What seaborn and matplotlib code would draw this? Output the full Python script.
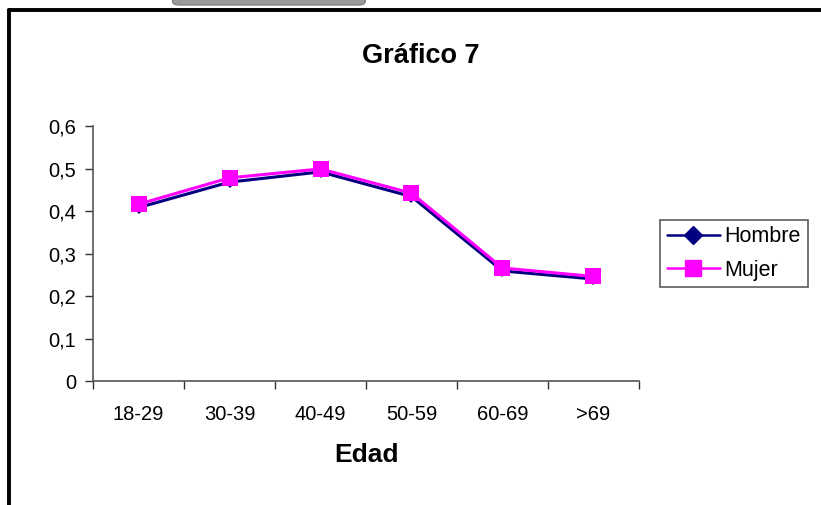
import matplotlib
matplotlib.use("Agg")
import matplotlib.pyplot as plt
from matplotlib.patches import FancyBboxPatch
from matplotlib.lines import Line2D
import seaborn as sns
import pandas as pd
import numpy as np

# Data
edades = ["18-29", "30-39", "40-49", "50-59", "60-69", ">69"]
hombre = [0.408, 0.468, 0.492, 0.434, 0.259, 0.240]
mujer = [0.416, 0.478, 0.499, 0.442, 0.266, 0.246]
series = ["Hombre", "Mujer"]
y_ticks = [0, 0.1, 0.2, 0.3, 0.4, 0.5, 0.6]
y_labels = ["0", "0,1", "0,2", "0,3", "0,4", "0,5", "0,6"]

df = pd.DataFrame({
    "Edad": edades * 2,
    "valor": hombre + mujer,
    "sexo": ["Hombre"] * len(edades) + ["Mujer"] * len(edades),
})
df["pos"] = df["Edad"].map({e: i for i, e in enumerate(edades)})

sns.set_style("white")
plt.rcParams["font.family"] = ["Liberation Sans", "DejaVu Sans"]
plt.rcParams["text.color"] = "black"
plt.rcParams["axes.labelcolor"] = "black"
plt.rcParams["xtick.color"] = "black"
plt.rcParams["ytick.color"] = "black"

fig = plt.figure(figsize=(8.21, 5.05), dpi=100)
ax = fig.add_axes([0.1133, 0.2455, 0.665, 0.505])

colors = {"Hombre": "#000080", "Mujer": "#FF00FF"}
sns.lineplot(data=df, x="pos", y="valor", hue="sexo", style="sexo",
             palette=colors, markers={"Hombre": "D", "Mujer": "s"},
             dashes=False, linewidth=2.2, markersize=6, ax=ax, legend=False,
             markeredgewidth=0)
# make the squares bigger
for line in ax.get_lines():
    if line.get_marker() == "s":
        line.set_markersize(11.5)

ax.set_xlim(-0.5, len(edades) - 0.5)
ax.set_ylim(0, 0.6)
ax.set_yticks(y_ticks)
ax.set_yticklabels(y_labels, fontsize=14.5)
ax.set_xticks(range(len(edades)))
ax.set_xticklabels(edades, fontsize=14.5)
ax.set_xticks(np.arange(-0.5, len(edades)), minor=True)
ax.tick_params(axis="x", which="major", length=0, pad=17)
ax.tick_params(axis="x", which="minor", length=6, width=1, color="#333333", direction="out", bottom=True)
ax.tick_params(axis="y", length=6, width=1, color="#333333", direction="out", left=True, pad=6)
ax.set_xlabel("Edad", fontsize=19, fontweight="bold", labelpad=14)
ax.set_ylabel("")
for side in ["top", "right"]:
    ax.spines[side].set_visible(False)
for side in ["left", "bottom"]:
    ax.spines[side].set_color("#555555")
    ax.spines[side].set_linewidth(1.2)

fig.text(0.513, 0.89, "Gráfico 7", ha="center", va="center", fontsize=19.5, fontweight="bold")

handles = [
    Line2D([], [], color=colors["Hombre"], marker="D", markersize=9, linewidth=1.8),
    Line2D([], [], color=colors["Mujer"], marker="s", markersize=12, linewidth=1.8),
]
leg = fig.legend(handles, series, loc="upper left", bbox_to_anchor=(0.804, 0.565),
                 frameon=True, fancybox=False, fontsize=15.5, handlelength=2.5,
                 handletextpad=0.2, borderpad=0.3, labelspacing=0.58, borderaxespad=0)
leg.get_frame().set_edgecolor("#333333")
leg.get_frame().set_linewidth(1.2)

# outer frame of the embedded chart
fig.add_artist(Line2D([0.011, 0.011], [0.0, 0.981], color="black", linewidth=2.8,
                      transform=fig.transFigure))
fig.add_artist(Line2D([0.011, 1.0], [0.981, 0.981], color="black", linewidth=2.8,
                      transform=fig.transFigure))
# grey tab at the top
fig.add_artist(FancyBboxPatch((0.21, 0.99), 0.235, 0.03, boxstyle="round,pad=0.0,rounding_size=0.008",
                              facecolor="#9a9a9a", edgecolor="#777777", linewidth=0.8,
                              transform=fig.transFigure))

fig.savefig("out.png", dpi=100)
